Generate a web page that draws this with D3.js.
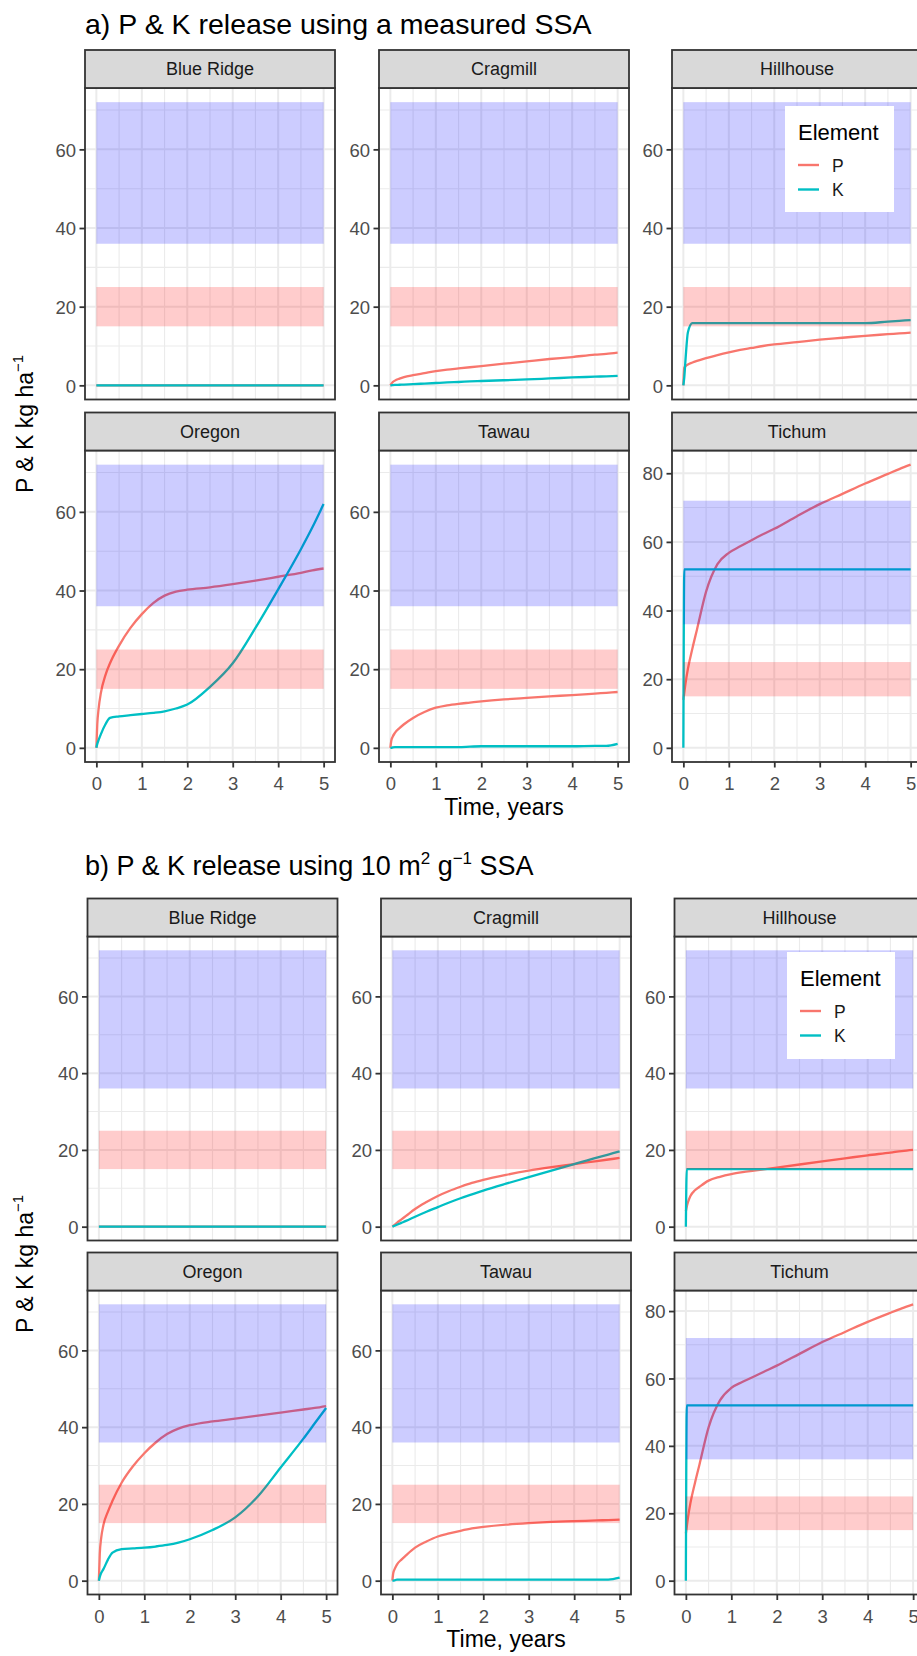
<!DOCTYPE html>
<html><head><meta charset="utf-8">
<script src="https://cdn.jsdelivr.net/npm/d3@7/dist/d3.min.js"></script>
<style>
body{margin:0;background:#fff;overflow:hidden}
svg{display:block}
text{font-family:"Liberation Sans",Arial,Helvetica,sans-serif}
</style>
</head><body><div id="chart"></div>
<script>
// ---------------- data ----------------
const sites = ["Blue Ridge","Cragmill","Hillhouse","Oregon","Tawau","Tichum"];
const elements = ["P","K"];
const elementColors = ["#F8766D","#00BFC4"];
const timeYears = [0,0.02,0.05,0.1,0.2,0.3,0.5,0.75,1,1.25,1.5,1.75,2,2.5,3,3.5,4,4.5,4.75,5];
const xTickValues = [0,1,2,3,4,5];
const pBand = [15,25];
const kBand = [36,72];
const titleA = "a) P & K release using a measured SSA";
const xTitle = "Time, years";

// a) measured SSA
const aBlueRidgeP = [0,0,0,0,0,0,0,0,0,0,0,0,0,0,0,0,0,0,0,0];
const aBlueRidgeK = [0,0,0,0,0,0,0,0,0,0,0,0,0,0,0,0,0,0,0,0];
const aCragmillP  = [0,0.4,0.8,1.2,1.7,2.1,2.6,3.1,3.6,4.0,4.3,4.6,4.9,5.5,6.1,6.7,7.2,7.8,8.0,8.3];
const aCragmillK  = [0,0,0.05,0.1,0.15,0.2,0.3,0.45,0.6,0.75,0.85,1.0,1.1,1.3,1.5,1.75,2.0,2.2,2.3,2.4];
const aHillhouseP = [0,4.5,4.9,5.3,5.8,6.2,6.9,7.7,8.4,9.0,9.5,10.0,10.4,11.0,11.6,12.1,12.6,13.0,13.2,13.4];
const aHillhouseK = [0,2,7,13.5,15.8,15.8,15.8,15.8,15.8,15.8,15.8,15.8,15.8,15.8,15.8,15.8,15.8,16.2,16.4,16.6];
const aOregonP    = [0,6,10,14,18.5,21.5,26,30.5,34,36.8,38.7,39.7,40.2,40.8,41.6,42.5,43.5,44.5,45.1,45.6];
const aOregonK    = [0,1,2,3.5,6,7.6,8.0,8.3,8.6,8.9,9.3,10.0,11.0,15.5,21.5,30.5,40.3,50.5,56,62];
const aTawauP     = [0,1.8,2.8,3.8,5.0,6.0,7.6,9.1,10.2,10.8,11.2,11.5,11.8,12.3,12.7,13.1,13.4,13.8,14.0,14.2];
const aTawauK     = [0,0,0.1,0.2,0.2,0.2,0.2,0.2,0.2,0.2,0.2,0.3,0.4,0.4,0.4,0.4,0.4,0.5,0.5,1.0];
const aTichumP    = [14,16,19,23,29,34.5,45.5,53.5,56.8,58.7,60.5,62.2,63.8,67.5,71,74,77,79.8,81.2,82.5];
const aTichumK    = [0,52,52,52,52,52,52,52,52,52,52,52,52,52,52,52,52,52,52,52];

// b) 10 m2/g SSA
const bBlueRidgeP = [0,0,0,0,0,0,0,0,0,0,0,0,0,0,0,0,0,0,0,0];
const bBlueRidgeK = [0,0,0,0,0,0,0,0,0,0,0,0,0,0,0,0,0,0,0,0];
const bCragmillP  = [0,0.2,0.5,1.0,1.9,2.8,4.6,6.4,8.0,9.3,10.4,11.4,12.2,13.5,14.6,15.5,16.3,17.1,17.5,17.9];
const bCragmillK  = [0,0.1,0.25,0.5,1.0,1.5,2.6,3.9,5.1,6.3,7.4,8.4,9.4,11.2,12.9,14.6,16.3,18.0,18.8,19.6];
const bHillhouseP = [4,5.2,6.5,8.0,9.5,10.4,12.0,13.0,13.7,14.2,14.6,15.0,15.4,16.2,17.0,17.8,18.6,19.3,19.7,20.0];
const bHillhouseK = [0,15,15,15,15,15,15,15,15,15,15,15,15,15,15,15,15,15,15,15];
const bOregonP    = [0,7,11,14.5,18,20.8,25.5,29.8,33.2,36,38.2,39.6,40.5,41.5,42.2,43.0,43.8,44.6,45.0,45.5];
const bOregonK    = [0,1,2,3,5.5,7.3,8.2,8.4,8.6,8.9,9.3,9.9,10.8,13.2,16.5,22,29.5,37,41,45];
const bTawauP     = [0,2,3,4.2,5.5,6.6,8.6,10.2,11.5,12.3,13.0,13.6,14.0,14.6,15.0,15.3,15.5,15.7,15.8,15.9];
const bTawauK     = [0,0,0.1,0.3,0.3,0.3,0.3,0.3,0.3,0.3,0.3,0.3,0.3,0.3,0.3,0.3,0.3,0.3,0.3,0.8];
const bTichumP    = [14,16,19,23,29,34.5,45.5,53.5,57.2,59,60.6,62.2,63.8,67.3,70.8,73.8,76.8,79.5,80.8,82];
const bTichumK    = [0,52,52,52,52,52,52,52,52,52,52,52,52,52,52,52,52,52,52,52];

const seriesA = [[aBlueRidgeP,aBlueRidgeK],[aCragmillP,aCragmillK],[aHillhouseP,aHillhouseK],
                 [aOregonP,aOregonK],[aTawauP,aTawauK],[aTichumP,aTichumK]];
const seriesB = [[bBlueRidgeP,bBlueRidgeK],[bCragmillP,bCragmillK],[bHillhouseP,bHillhouseK],
                 [bOregonP,bOregonK],[bTawauP,bTawauK],[bTichumP,bTichumK]];

// ---------------- layout ----------------
const W = 917, H = 1656;
const svg = d3.select("#chart").append("svg").attr("width",W).attr("height",H);

const layoutA = {titleX:85, titleY:33.5, colX:[85,379,672], rowTop:[50,412.5], stripH:38, panelH:311.5,
  tickLabelY:790, xTitleY:815, yLabelX:33, yLabelStart:493,
  legend:{x:785, y:106, w:109, h:106}};
const layoutB = {titleX:85, titleY:875, colX:[87.5,381,674.5], rowTop:[898.5,1252.5], stripH:38, panelH:304,
  tickLabelY:1623, xTitleY:1647, yLabelX:33, yLabelStart:1333,
  legend:{x:787, y:952, w:108, h:107}};

const PW = 250;
const gridCol = "#EBEBEB", darkCol = "#333333", tickTextCol = "#4D4D4D";

function drawFigure(L, series, titleFn){
  const g = svg.append("g");
  titleFn(g.append("text").attr("x",L.titleX).attr("y",L.titleY)
     .attr("font-size",27).attr("fill","#000"));

  series.forEach((pair,i)=>{
    const row = Math.floor(i/3), col = i%3;
    const x0 = L.colX[col];
    const stripTop = L.rowTop[row];
    const pTop = stripTop + L.stripH, pBot = pTop + L.panelH;
    const x = d3.scaleLinear().domain([-0.25,5.25]).range([x0, x0+PW]);
    const ymax = Math.max(kBand[1], d3.max(pair[0]), d3.max(pair[1]));
    const y = d3.scaleLinear().domain([-0.05*ymax, 1.05*ymax]).range([pBot, pTop]);
    const pg = g.append("g");

    pg.append("rect").attr("x",x0).attr("y",pTop).attr("width",PW).attr("height",L.panelH).attr("fill","#fff");
    const yMajor = y.ticks(5).filter(v=>v>=0);
    const yMinor = yMajor.map(v=>v+10).filter(v=>v<y.domain()[1]);
    const xMinor = [0.5,1.5,2.5,3.5,4.5];
    pg.selectAll(null).data(yMinor).join("line")
      .attr("x1",x0).attr("x2",x0+PW).attr("y1",d=>y(d)).attr("y2",d=>y(d))
      .attr("stroke",gridCol).attr("stroke-width",1.1);
    pg.selectAll(null).data(xMinor).join("line")
      .attr("y1",pTop).attr("y2",pBot).attr("x1",d=>x(d)).attr("x2",d=>x(d))
      .attr("stroke",gridCol).attr("stroke-width",1.1);
    pg.selectAll(null).data(yMajor).join("line")
      .attr("x1",x0).attr("x2",x0+PW).attr("y1",d=>y(d)).attr("y2",d=>y(d))
      .attr("stroke",gridCol).attr("stroke-width",2);
    pg.selectAll(null).data(xTickValues).join("line")
      .attr("y1",pTop).attr("y2",pBot).attr("x1",d=>x(d)).attr("x2",d=>x(d))
      .attr("stroke",gridCol).attr("stroke-width",2);

    const line = d3.line().x((d,j)=>x(timeYears[j])).y(d=>y(d)).curve(d3.curveMonotoneX);
    pair.forEach((vals,k)=>{
      pg.append("path").attr("d",line(vals)).attr("fill","none")
        .attr("stroke",elementColors[k]).attr("stroke-width",2.3).attr("stroke-linejoin","round");
    });

    // bands (drawn over lines, semi-transparent)
    pg.append("rect").attr("x",x(0)).attr("width",x(5)-x(0))
      .attr("y",y(kBand[1])).attr("height",y(kBand[0])-y(kBand[1]))
      .attr("fill","blue").attr("fill-opacity",0.2);
    pg.append("rect").attr("x",x(0)).attr("width",x(5)-x(0))
      .attr("y",y(pBand[1])).attr("height",y(pBand[0])-y(pBand[1]))
      .attr("fill","red").attr("fill-opacity",0.2);

    // border
    pg.append("rect").attr("x",x0).attr("y",pTop).attr("width",PW).attr("height",L.panelH)
      .attr("fill","none").attr("stroke",darkCol).attr("stroke-width",1.8);
    // strip
    pg.append("rect").attr("x",x0).attr("y",stripTop).attr("width",PW).attr("height",L.stripH)
      .attr("fill","#D9D9D9").attr("stroke",darkCol).attr("stroke-width",1.8);
    pg.append("text").attr("x",x0+PW/2).attr("y",stripTop+L.stripH/2+6.3)
      .attr("text-anchor","middle").attr("font-size",18).attr("fill","#1A1A1A").text(sites[i]);

    // y axis
    const ya = pg.append("g").attr("transform",`translate(${x0},0)`)
      .call(d3.axisLeft(y).tickValues(yMajor).tickFormat(d3.format("d")).tickSize(5.5).tickPadding(3.5));
    ya.select(".domain").remove();
    ya.selectAll(".tick line").attr("stroke",darkCol).attr("stroke-width",1.8);
    ya.selectAll(".tick text").attr("font-size",18.5).attr("fill",tickTextCol)
      .attr("font-family",null).attr("dy","0.36em");

    // x axis (bottom row only)
    if(row===1){
      const xa = pg.append("g").attr("transform",`translate(0,${pBot})`)
        .call(d3.axisBottom(x).tickValues(xTickValues).tickFormat(d3.format("d")).tickSize(5.5).tickPadding(3.5));
      xa.select(".domain").remove();
      xa.selectAll(".tick line").attr("stroke",darkCol).attr("stroke-width",1.8);
      xa.selectAll(".tick text").attr("font-size",18.5).attr("fill",tickTextCol)
        .attr("font-family",null).attr("dy",null).attr("y",L.tickLabelY-pBot);
    }

    // legend in third panel
    if(i===2){
      const lg = L.legend;
      const lgG = pg.append("g").attr("transform",`translate(${lg.x},${lg.y})`);
      lgG.append("rect").attr("width",lg.w).attr("height",lg.h).attr("fill","#fff");
      lgG.append("text").attr("x",13).attr("y",33.5).attr("font-size",22).attr("fill","#000").text("Element");
      elements.forEach((e,k)=>{
        const ky = 59 + k*24.5;
        lgG.append("line").attr("x1",13).attr("x2",34).attr("y1",ky).attr("y2",ky)
          .attr("stroke",elementColors[k]).attr("stroke-width",2.4);
        lgG.append("text").attr("x",47).attr("y",ky+6.5).attr("font-size",17.5).attr("fill","#1A1A1A").text(e);
      });
    }
  });

  // x title
  g.append("text").attr("x",L.colX[1]+PW/2).attr("y",L.xTitleY).attr("text-anchor","middle")
    .attr("font-size",23).attr("fill","#000").text(xTitle);
  // y title
  const yt = g.append("text").attr("transform",`translate(${L.yLabelX},${L.yLabelStart}) rotate(-90)`)
    .attr("font-size",23).attr("fill","#000");
  yt.append("tspan").text("P & K kg ha");
  yt.append("tspan").attr("dy",-10).attr("font-size",15).text("\u22121");
}

drawFigure(layoutA, seriesA, t=>t.attr("font-size",28.5).text(titleA));
drawFigure(layoutB, seriesB, t=>{
  t.append("tspan").text("b) P & K release using 10 m");
  t.append("tspan").attr("dy",-11).attr("font-size",17).text("2");
  t.append("tspan").attr("dy",11).text(" g");
  t.append("tspan").attr("dy",-11).attr("font-size",17).text("\u22121");
  t.append("tspan").attr("dy",11).text(" SSA");
});
</script>
</body></html>
